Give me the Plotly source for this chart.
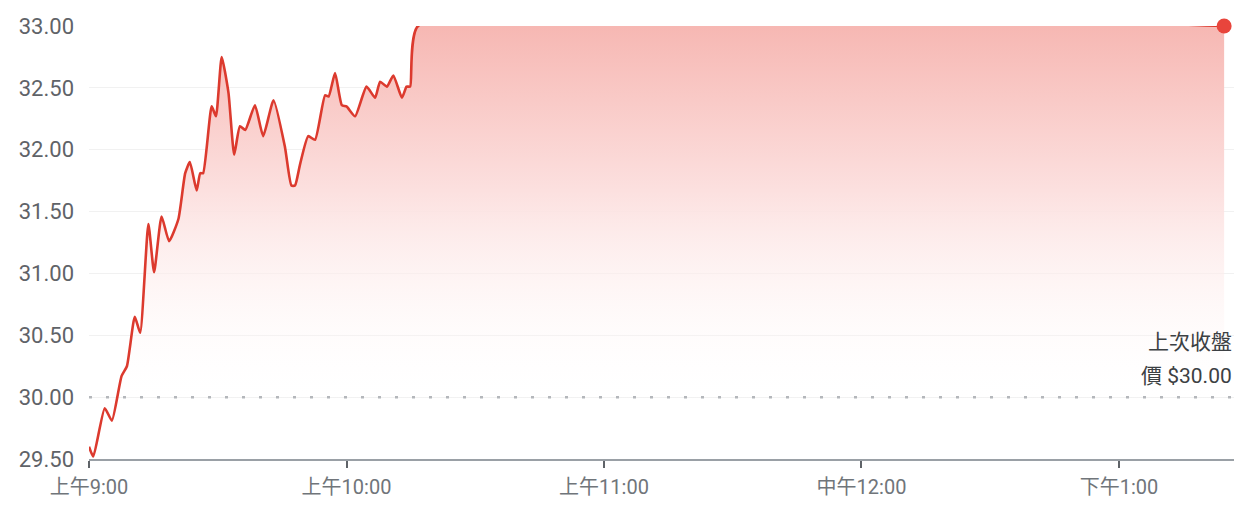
import plotly.graph_objects as go

DAY = "2024-01-02"
times = ["09:00:00", "09:01:00", "09:03:40", "09:05:20", "09:07:35", "09:08:50",
         "09:10:40", "09:11:55", "09:13:50", "09:15:10", "09:16:55", "09:18:40",
         "09:20:50", "09:22:25", "09:23:30", "09:25:05", "09:25:55", "09:26:35",
         "09:28:35", "09:29:35", "09:30:55", "09:32:30", "09:33:50", "09:35:10",
         "09:36:25", "09:38:40", "09:40:35", "09:43:00", "09:45:40", "09:47:10",
         "09:48:00", "09:49:10", "09:51:05", "09:52:40", "09:55:00", "09:55:50",
         "09:57:20", "09:58:55", "10:00:00", "10:02:00", "10:04:40", "10:06:40",
         "10:07:50", "10:09:25", "10:10:55", "10:12:55", "10:14:00", "10:14:50",
         "10:16:40", "13:24:30"]
prices = [29.60, 29.52, 29.91, 29.81, 30.17, 30.25,
          30.65, 30.52, 31.40, 31.01, 31.46, 31.26,
          31.44, 31.81, 31.90, 31.67, 31.81, 31.81,
          32.35, 32.27, 32.75, 32.46, 31.96, 32.19,
          32.16, 32.36, 32.11, 32.40, 32.02, 31.71,
          31.71, 31.88, 32.11, 32.08, 32.44, 32.43,
          32.62, 32.36, 32.35, 32.27, 32.51, 32.42,
          32.55, 32.51, 32.60, 32.42, 32.51, 32.51,
          33.00, 33.00]
prev_close = 30.00
y_ticks = [29.5, 30.0, 30.5, 31.0, 31.5, 32.0, 32.5, 33.0]
y_tick_text = ["29.50", "30.00", "30.50", "31.00", "31.50", "32.00", "32.50", "33.00"]
x_tick_times = ["09:00", "10:00", "11:00", "12:00", "13:00"]
x_tick_text = ["上午9:00", "上午10:00", "上午11:00", "中午12:00", "下午1:00"]
note_lines = ["上次收盤", "價 $30.00"]

x = [f"{DAY} {t}" for t in times]
y_min, y_max = y_ticks[0], y_ticks[-1]

LINE = "#dc3a2e"
FONT = "Roboto, 'Noto Sans CJK TC', sans-serif"

fig = go.Figure()
# baseline for the fill
fig.add_trace(go.Scatter(x=x, y=[y_min] * len(x), mode="lines",
                         line=dict(width=0, color="rgba(0,0,0,0)"),
                         hoverinfo="skip", showlegend=False))
fig.add_trace(go.Scatter(
    x=x, y=prices, mode="lines", fill="tonexty",
    line=dict(color=LINE, width=2.6, shape="spline", smoothing=0.5),
    fillgradient=dict(type="vertical",
                      colorscale=[[0, "rgba(255,255,255,0)"],
                                  [0.12, "rgba(255,255,255,0)"],
                                  [0.6, "rgba(252,224,223,1)"],
                                  [1, "rgba(246,180,175,1)"]]),
    showlegend=False, cliponaxis=False))
fig.add_trace(go.Scatter(x=[x[-1]], y=[prices[-1]], mode="markers",
                         marker=dict(color="#e8453c", size=15),
                         showlegend=False, cliponaxis=False))

# previous close dotted line
fig.add_shape(type="line", xref="paper", x0=0, x1=1, yref="y", y0=prev_close, y1=prev_close,
              line=dict(color="#b4b7bb", width=2.5, dash="3px,14px"), layer="above")

fig.add_annotation(xref="paper", x=1, xanchor="right", xshift=0, yref="y", y=prev_close,
                   yanchor="middle", yshift=55, text=note_lines[0], showarrow=False,
                   font=dict(family=FONT, size=21, color="#3c4043"))
fig.add_annotation(xref="paper", x=1, xanchor="right", xshift=0, yref="y", y=prev_close,
                   yanchor="middle", yshift=21, text=note_lines[1], showarrow=False,
                   font=dict(family=FONT, size=21, color="#3c4043"))

fig.update_layout(
    width=1226, height=490,
    margin=dict(l=81, r=0, t=18, b=39),
    paper_bgcolor="white", plot_bgcolor="white",
    font=dict(family=FONT),
    xaxis=dict(
        type="date",
        range=[f"{DAY} 09:00:00", f"{DAY} 13:26:48"],
        tickvals=[f"{DAY} {t}" for t in x_tick_times],
        ticktext=x_tick_text,
        showgrid=False, zeroline=False,
        showline=True, linecolor="#9aa0a6", linewidth=1.5,
        ticks="outside", ticklen=7, tickwidth=2, tickcolor="#5f6368",
        tickfont=dict(size=20, color="#70757a"),
        ticklabelstandoff=2,
    ),
    yaxis=dict(
        range=[y_min, y_max],
        tickvals=y_ticks, ticktext=y_tick_text,
        showgrid=True, gridcolor="#f1f1f1", gridwidth=1,
        zeroline=False, showline=False, ticks="",
        tickfont=dict(size=22, color="#5f6368"),
        ticklabelstandoff=14,
    ),
)

fig.write_html("out.html")
